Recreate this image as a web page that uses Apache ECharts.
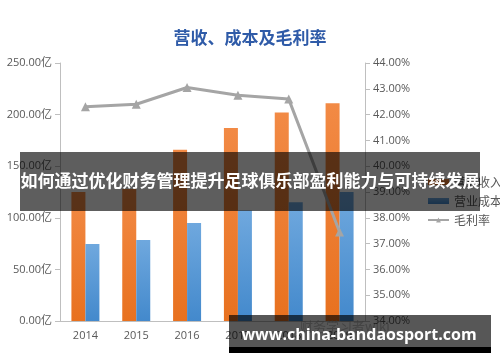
<!DOCTYPE html>
<html><head><meta charset="utf-8">
<script src="https://cdn.jsdelivr.net/npm/echarts@6/dist/echarts.min.js"></script>
<style>html,body{margin:0;padding:0;background:#fff}#c{width:500px;height:362px}</style>
</head><body><div id="c"></div>
<script>
const categories = ['2014','2015','2016','2017','2018','2019'];
const revenue = [125, 128, 166, 187, 202, 211];
const cost = [74.5, 78.5, 95, 107, 115, 125];
const margin = [42.3, 42.4, 43.05, 42.75, 42.6, 37.45];
const leftTicks = {min: 0, max: 250, interval: 50};
const rightTicks = {min: 34, max: 44, interval: 1};
const titleText = '营收、成本及毛利率';
const bannerText = '如何通过优化财务管理提升足球俱乐部盈利能力与可持续发展';
const siteText = 'www.china-bandaosport.com';

const FONT = '"Open Sans","Noto Sans CJK SC",sans-serif';
const CJK = '"Noto Sans CJK SC",sans-serif';
const chart = echarts.init(document.getElementById('c'), null, {renderer: 'canvas'});
const orangeGrad = new echarts.graphic.LinearGradient(0,0,0,1,[{offset:0,color:'#F28A45'},{offset:1,color:'#E8711F'}]);
const blueGrad = new echarts.graphic.LinearGradient(0,0,0,1,[{offset:0,color:'#6FA8DE'},{offset:1,color:'#4389CC'}]);
chart.setOption({
  animation: false,
  title: {text: titleText, left: 'center', top: 24, textStyle: {color: '#2F5BA8', fontSize: 17, fontWeight: 'bold', fontFamily: CJK}},
  grid: {left: 60, right: 135, top: 63, bottom: 41},
  legend: {
    orient: 'vertical', left: 422, top: 171, itemGap: 7, itemWidth: 21, itemHeight: 6,
    textStyle: {color: '#595959', fontSize: 12, fontFamily: CJK},
    data: [{name: '营业收入', icon: 'rect'}, {name: '营业成本', icon: 'rect'}, {name: '毛利率'}]
  },
  xAxis: {
    type: 'category', data: categories,
    axisLine: {lineStyle: {color: '#BFBFBF'}},
    axisTick: {lineStyle: {color: '#BFBFBF'}},
    axisLabel: {color: '#595959', fontSize: 11, fontFamily: FONT, margin: 9}
  },
  yAxis: [
    {type: 'value', min: leftTicks.min, max: leftTicks.max, interval: leftTicks.interval,
     splitLine: {show: false},
     axisLine: {show: true, lineStyle: {color: '#BFBFBF'}},
     axisTick: {show: true, lineStyle: {color: '#BFBFBF'}},
     axisLabel: {color: '#595959', fontSize: 11, fontFamily: FONT, margin: 8, formatter: v => v.toFixed(2) + '亿'}},
    {type: 'value', min: rightTicks.min, max: rightTicks.max, interval: rightTicks.interval,
     splitLine: {show: false},
     axisLine: {show: true, lineStyle: {color: '#BFBFBF'}},
     axisTick: {show: true, lineStyle: {color: '#BFBFBF'}},
     axisLabel: {color: '#595959', fontSize: 11, fontFamily: FONT, margin: 8, formatter: v => v.toFixed(2) + '%'}}
  ],
  series: [
    {name: '营业收入', type: 'bar', data: revenue, barWidth: 14, barGap: '0%', itemStyle: {color: orangeGrad}},
    {name: '营业成本', type: 'bar', data: cost, barWidth: 14, barGap: '0%', itemStyle: {color: blueGrad}},
    {name: '毛利率', type: 'line', yAxisIndex: 1, data: margin, symbol: 'triangle', symbolSize: 9,
     lineStyle: {color: '#A5A5A5', width: 3}, itemStyle: {color: '#A5A5A5'}, z: 5}
  ],
  graphic: [
    {type: 'text', left: 300, top: 320, z: 50, style: {text: '财务学习者wiki', fill: 'rgba(160,160,160,0.6)', font: '13px ' + CJK}},
    {type: 'rect', shape: {x: 20, y: 152, width: 460, height: 59}, z: 100, style: {fill: 'rgba(0,0,0,0.63)'}},
    {type: 'text', x: 250, y: 181, z: 101, style: {text: bannerText, fill: '#fff', font: 'bold 17px ' + CJK, textAlign: 'center', textVerticalAlign: 'middle'}},
    {type: 'rect', shape: {x: 229, y: 315, width: 262, height: 32}, z: 100, style: {fill: 'rgba(0,0,0,0.66)'}},
    {type: 'rect', shape: {x: 229, y: 347, width: 262, height: 6}, z: 100, style: {fill: '#000'}},
    {type: 'text', x: 359, y: 335, z: 101, style: {text: siteText, fill: '#fff', font: 'bold 16px "Open Sans",sans-serif', textAlign: 'center', textVerticalAlign: 'middle'}}
  ]
});
</script></body></html>
